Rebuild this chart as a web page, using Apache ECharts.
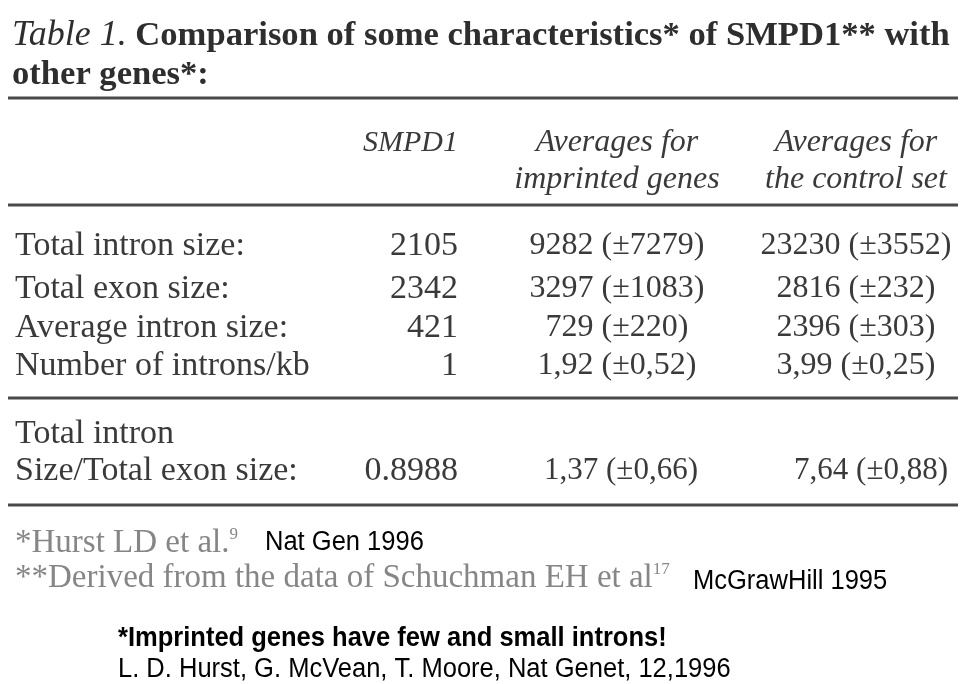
<!DOCTYPE html>
<html>
<head>
<meta charset="utf-8">
<script src="https://cdn.jsdelivr.net/npm/echarts@6/dist/echarts.min.js"></script>
<style>html,body{margin:0;padding:0;background:#fff}#c{width:960px;height:684px}</style>
</head>
<body>
<div id="c"></div>
<script>
// ---- data ----
const titleLead = 'Table 1.';
const titleRest = ' Comparison of some characteristics* of SMPD1** with';
const titleLine2 = 'other genes*:';
const columnHeaders = [['SMPD1'], ['Averages for', 'imprinted genes'], ['Averages for', 'the control set']];
const rowLabels = ['Total intron size:', 'Total exon size:', 'Average intron size:', 'Number of introns/kb'];
const smpd1Values = ['2105', '2342', '421', '1'];
const imprintedValues = ['9282 (±7279)', '3297 (±1083)', '729 (±220)', '1,92 (±0,52)'];
const controlValues = ['23230 (±3552)', '2816 (±232)', '2396 (±303)', '3,99 (±0,25)'];
const ratioLabel = ['Total intron', 'Size/Total exon size:'];
const ratioValues = ['0.8988', '1,37 (±0,66)', '7,64 (±0,88)'];
const footnotes = ['*Hurst LD et al.', '**Derived from the data of Schuchman EH et al'];
const footnoteRefs = ['9', '17'];
const sources = ['Nat Gen 1996', 'McGrawHill 1995'];
const summary = '*Imprinted genes have few and small introns!';
const citation = 'L. D. Hurst, G. McVean, T. Moore, Nat Genet, 12,1996';

// ---- layout ----
const SERIF = '"Liberation Serif", "Times New Roman", serif';
const SANS = '"Liberation Sans", Arial, sans-serif';
const INK = '#3a3a3a';
const colX = { label: 15, smpd1: 458, imprinted: 617, control: 856 };
const rowY = [246, 289, 328, 366];
const ratioY = [434, 471];
const ruleY = [98, 205, 398, 505];

const g = [];
function txt(x, y, text, opt, extra) {
  g.push(Object.assign({
    type: 'text', x: x, y: y,
    style: Object.assign({
      text: text, fill: INK, fontFamily: SERIF, fontSize: 34,
      textAlign: 'left', textVerticalAlign: 'middle'
    }, opt || {})
  }, extra || {}));
}
ruleY.forEach(function (y) {
  g.push({ type: 'line', shape: { x1: 8, y1: y, x2: 958, y2: y }, style: { stroke: '#4a4a4a', lineWidth: 3 } });
});

// title
g.push({
  type: 'text', x: 12, y: 36,
  style: {
    text: '{i|' + titleLead + '}{b|' + titleRest + '}',
    textVerticalAlign: 'middle',
    rich: {
      i: { fontFamily: SERIF, fontStyle: 'italic', fontSize: 36, fill: '#2e2e2e' },
      b: { fontFamily: SERIF, fontWeight: 'bold', fontSize: 34.6, fill: '#2e2e2e' }
    }
  }
});
txt(12, 75, titleLine2, { fontWeight: 'bold', fontSize: 34.6, fill: '#2e2e2e' });

// headers
const headerCols = [['smpd1', 'right', 30], ['imprinted', 'center', 32], ['control', 'center', 32]];
columnHeaders.forEach(function (lines, i) {
  lines.forEach(function (line, j) {
    txt(colX[headerCols[i][0]], 143 + j * 37, line, { fontStyle: 'italic', fontSize: headerCols[i][2], textAlign: headerCols[i][1] });
  });
});

// body rows
rowLabels.forEach(function (lab, i) {
  txt(colX.label, rowY[i], lab);
  txt(colX.smpd1, rowY[i], smpd1Values[i], { textAlign: 'right' });
  txt(colX.imprinted, rowY[i], imprintedValues[i], { textAlign: 'center', fontSize: 32 });
  txt(colX.control, rowY[i], controlValues[i], { textAlign: 'center', fontSize: 32 });
});

// ratio row
txt(colX.label, ratioY[0], ratioLabel[0]);
txt(colX.label, ratioY[1], ratioLabel[1]);
txt(colX.smpd1, ratioY[1], ratioValues[0], { textAlign: 'right' });
txt(621, ratioY[1], ratioValues[1], { textAlign: 'center', fontSize: 31 });
txt(948, ratioY[1], ratioValues[2], { textAlign: 'right', fontSize: 31 });

// footnotes
footnotes.forEach(function (f, i) {
  g.push({
    type: 'text', x: 15, y: 543 + i * 35,
    style: {
      text: '{a|' + f + '}{s|' + footnoteRefs[i] + '}',
      textVerticalAlign: 'middle',
      rich: {
        a: { fontFamily: SERIF, fontSize: 33, fill: '#868686' },
        s: { fontFamily: SERIF, fontSize: 17, fill: '#868686', verticalAlign: 'top' }
      }
    }
  });
});
const narrow = { scaleX: 0.945 };
txt(265, 543, sources[0], { fontFamily: SANS, fontSize: 27, fill: '#000' }, narrow);
txt(693, 582, sources[1], { fontFamily: SANS, fontSize: 27, fill: '#000' }, narrow);
txt(118, 639, summary, { fontFamily: SANS, fontSize: 27, fontWeight: 'bold', fill: '#000' }, narrow);
txt(118, 670, citation, { fontFamily: SANS, fontSize: 27, fill: '#000' }, narrow);

const chart = echarts.init(document.getElementById('c'), null, { renderer: 'canvas' });
chart.setOption({ backgroundColor: '#fff', animation: false, graphic: g });
</script>
</body>
</html>
